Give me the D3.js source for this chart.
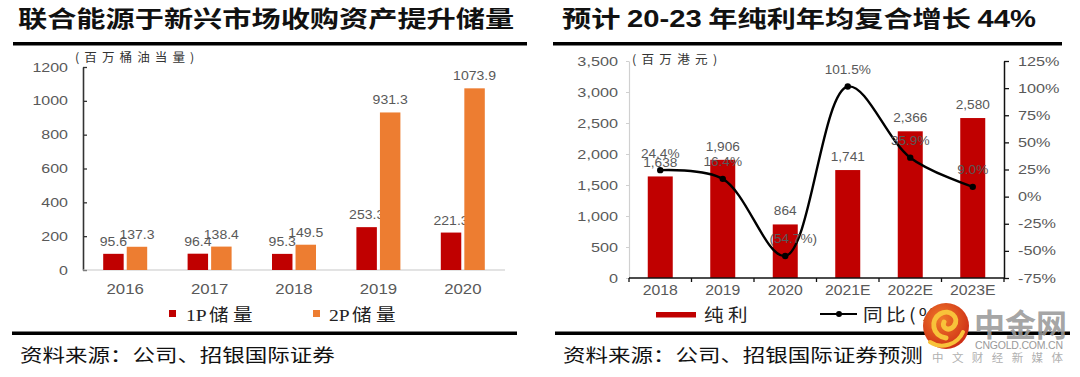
<!DOCTYPE html>
<html>
<head>
<meta charset="utf-8">
<script src="https://cdn.jsdelivr.net/npm/d3@7"></script>
<style>
body { margin: 0; background: #fff; }
</style>
</head>
<body>
<script>
// ---- data ----
var reserveYears = ["2016", "2017", "2018", "2019", "2020"];
var reserve1P = [95.6, 96.4, 95.3, 253.3, 221.3];
var reserve2P = [137.3, 138.4, 149.5, 931.3, 1073.9];
var reserveTicks = [0, 200, 400, 600, 800, 1000, 1200];

var profitYears = ["2018", "2019", "2020", "2021E", "2022E", "2023E"];
var netProfit = [1638, 1906, 864, 1741, 2366, 2580];
var growth = [24.4, 16.4, -54.7, 101.5, 35.9, 9.0];
var profitTicks = [0, 500, 1000, 1500, 2000, 2500, 3000, 3500];
var growthTicks = [-75, -50, -25, 0, 25, 50, 75, 100, 125];

var red = "#c00000", orange = "#ed7d31", grey = "#595959";
var sans = "'Liberation Sans', Arial, sans-serif";
var cjk = "'Noto Sans CJK SC', sans-serif";
var serif = "'Liberation Serif', 'Noto Sans CJK SC', serif";

var svg = d3.select("body").append("svg")
    .attr("width", 1080)
    .attr("height", 377);

// the original picture is a bit stretched sideways, so text gets a scaleX
function txt(g, x, y, s, sx) {
    return g.append("text")
        .attr("transform", "translate(" + x + "," + y + ") scale(" + (sx || 1) + ",1)")
        .text(s);
}

// legend text: latin part tight, chinese part spaced out
function legendText(g, x, y, latin, chinese) {
    var t = g.append("text")
        .attr("transform", "translate(" + x + "," + y + ") scale(1.12,1)")
        .style("font-size", "17.5px").attr("fill", "#222");
    if (latin) t.append("tspan").style("font-family", serif).text(latin);
    t.append("tspan").style("font-family", cjk).style("letter-spacing", "4px")
        .attr("dx", latin ? 2 : 0).text(chinese);
    return t;
}

// ================= left panel =================
var left = svg.append("g");

txt(left, 18, 26.5, "联合能源于新兴市场收购资产提升储量", 1.27)
    .style("font-family", cjk).style("font-weight", 700)
    .style("font-size", "23px").attr("fill", "#111");

left.append("rect").attr("x", 13).attr("y", 42).attr("width", 514).attr("height", 3.5).attr("fill", "#000");

//scales
var xL = d3.scaleBand().domain(reserveYears).range([83, 505]);
var yL = d3.scaleLinear().domain([0, 1200]).range([270, 67]);
var xSub = d3.scaleBand().domain(["1P", "2P"]).range([-22, 22]).paddingInner(0.13);

//unit label
txt(left, 75, 62, "(百万桶油当量)", 1.05)
    .style("font-family", cjk).style("font-size", "12px")
    .style("letter-spacing", "4.8px").attr("fill", "#333");

//y axis
var axL = left.append("g")
    .attr("transform", "translate(83,0)")
    .call(d3.axisLeft(yL).tickValues(reserveTicks).tickFormat(d3.format("d")).tickSizeInner(-4).tickSizeOuter(0));
axL.select(".domain").attr("stroke", "#333").attr("stroke-width", 1.6);
axL.selectAll(".tick line").attr("stroke", "#333").attr("stroke-width", 1.3);
axL.selectAll(".tick text")
    .attr("x", -15 / 1.28).attr("transform", "scale(1.28,1)")
    .style("font-family", sans).style("font-size", "12.5px").attr("fill", grey);

//x baseline
left.append("line")
    .attr("x1", xL.range()[0]).attr("x2", xL.range()[1])
    .attr("y1", yL(0)).attr("y2", yL(0))
    .attr("stroke", "#c8c8c8").attr("stroke-width", 1.2);

//bars for each series
var series = [
    { key: "1P", values: reserve1P, color: red },
    { key: "2P", values: reserve2P, color: orange }
];
series.forEach(function(s) {
    left.selectAll(".bar" + s.key)
        .data(s.values)
        .enter()
        .append("rect")
        .attr("x", function(d, i) { return xL(reserveYears[i]) + xL.bandwidth() / 2 + xSub(s.key); })
        .attr("y", function(d) { return yL(d); })
        .attr("width", xSub.bandwidth())
        .attr("height", function(d) { return yL(0) - yL(d); })
        .attr("fill", s.color);

    s.values.forEach(function(d, i) {
        var cx = xL(reserveYears[i]) + xL.bandwidth() / 2 + xSub(s.key) + xSub.bandwidth() / 2;
        txt(left, cx, yL(d) - 8, d.toFixed(1), 1.08)
            .attr("text-anchor", "middle")
            .style("font-family", sans).style("font-size", "13px").attr("fill", grey);
    });
});

//year labels
reserveYears.forEach(function(y) {
    txt(left, xL(y) + xL.bandwidth() / 2, 293.5, y, 1.2)
        .attr("text-anchor", "middle")
        .style("font-family", sans).style("font-size", "14px").attr("fill", grey);
});

//legend
left.append("rect").attr("x", 169).attr("y", 310).attr("width", 7).attr("height", 7).attr("fill", red);
legendText(left, 186, 320.5, "1P", "储量");
left.append("rect").attr("x", 313).attr("y", 310).attr("width", 7).attr("height", 7).attr("fill", orange);
legendText(left, 329, 320.5, "2P", "储量");

left.append("rect").attr("x", 12).attr("y", 331.5).attr("width", 505).attr("height", 3.5).attr("fill", "#000");
txt(left, 20, 362, "资料来源：公司、招银国际证券", 1.25)
    .style("font-family", cjk).style("font-size", "18px").attr("fill", "#111");

// ================= right panel =================
var right = svg.append("g");

var title = right.append("text")
    .attr("transform", "translate(562,26.5) scale(1.27,1)")
    .style("font-weight", 700).style("font-size", "23px").attr("fill", "#111");
[["预计 ", cjk], ["20-23", sans], [" 年纯利年均复合增长 ", cjk], ["44%", sans]].forEach(function(p) {
    title.append("tspan").style("font-family", p[1]).text(p[0]);
});

right.append("rect").attr("x", 553).attr("y", 42).attr("width", 509).attr("height", 3.5).attr("fill", "#000");

var xR = d3.scaleBand().domain(profitYears).range([629, 1004]).paddingInner(0.6).paddingOuter(0.3);
var yR = d3.scaleLinear().domain([0, 3500]).range([278, 61]);
var yP = d3.scaleLinear().domain([-75, 125]).range([278, 61]);

txt(right, 632, 64, "(百万港元)", 1.05)
    .style("font-family", cjk).style("font-size", "12px")
    .style("letter-spacing", "5px").attr("fill", "#333");

//left axis (net profit)
var axR1 = right.append("g")
    .attr("transform", "translate(629,0)")
    .call(d3.axisLeft(yR).tickValues(profitTicks).tickFormat(d3.format(",")).tickSizeInner(3).tickSizeOuter(0));
axR1.select(".domain").attr("stroke", "#d0d0d0").attr("stroke-width", 1.2);
axR1.selectAll(".tick line").attr("stroke", "#d0d0d0");
axR1.selectAll(".tick text")
    .attr("x", -11 / 1.3).attr("transform", "scale(1.3,1)")
    .style("font-family", sans).style("font-size", "12.5px").attr("fill", grey);

//bars
right.selectAll(".profit")
    .data(netProfit)
    .enter()
    .append("rect")
    .attr("x", function(d, i) { return xR(profitYears[i]); })
    .attr("y", function(d) { return yR(d); })
    .attr("width", xR.bandwidth())
    .attr("height", function(d) { return yR(0) - yR(d); })
    .attr("fill", red);

//x axis with ticks between categories
var step = xR.step();
right.append("line")
    .attr("x1", xR.range()[0]).attr("x2", xR.range()[1])
    .attr("y1", yR(0)).attr("y2", yR(0))
    .attr("stroke", "#111").attr("stroke-width", 1.5);
d3.range(profitYears.length + 1).forEach(function(k) {
    var bx = xR.range()[0] + k * step;
    right.append("line")
        .attr("x1", bx).attr("x2", bx)
        .attr("y1", yR(0)).attr("y2", yR(0) + 4)
        .attr("stroke", "#111").attr("stroke-width", 1.3);
});
profitYears.forEach(function(y) {
    txt(right, xR(y) + xR.bandwidth() / 2, 295, y, 1.13)
        .attr("text-anchor", "middle")
        .style("font-family", sans).style("font-size", "14px").attr("fill", grey);
});

//right axis (growth)
var axR2 = right.append("g")
    .attr("transform", "translate(1004,0)")
    .call(d3.axisRight(yP).tickValues(growthTicks).tickFormat(function(d) { return d + "%"; }).tickSizeInner(5).tickSizeOuter(0));
axR2.select(".domain").attr("stroke", "#111").attr("stroke-width", 1.5);
axR2.selectAll(".tick line").attr("stroke", "#111").attr("stroke-width", 1.3);
axR2.selectAll(".tick text")
    .attr("x", 14 / 1.3).attr("transform", "scale(1.3,1)")
    .style("font-family", sans).style("font-size", "12.5px").attr("fill", grey);

//growth line
var cxR = function(i) { return xR(profitYears[i]) + xR.bandwidth() / 2; };
var line = d3.line()
    .x(function(d, i) { return cxR(i); })
    .y(function(d) { return yP(d); })
    .curve(d3.curveCatmullRom.alpha(0.5));
right.append("path")
    .datum(growth)
    .attr("d", line)
    .attr("fill", "none")
    .attr("stroke", "#000")
    .attr("stroke-width", 2.4);

//bar value labels
netProfit.forEach(function(d, i) {
    txt(right, cxR(i), yR(d) - 9, d3.format(",")(d), 1.05)
        .attr("text-anchor", "middle")
        .style("font-family", sans).style("font-size", "13px").attr("fill", grey);
});

right.selectAll(".dot")
    .data(growth)
    .enter()
    .append("circle")
    .attr("cx", function(d, i) { return cxR(i); })
    .attr("cy", function(d) { return yP(d); })
    .attr("r", 3.2)
    .attr("fill", "#000");

//growth labels, negative in brackets
growth.forEach(function(d, i) {
    var s = d < 0 ? "(" + Math.abs(d).toFixed(1) + "%)" : d.toFixed(1) + "%";
    txt(right, cxR(i) + (d < 0 ? 8 : 0), yP(d) - 12.5, s, 1.05)
        .attr("text-anchor", "middle")
        .style("font-family", sans).style("font-size", "13px").attr("fill", grey);
});

//legend
right.append("rect").attr("x", 656).attr("y", 312).attr("width", 40).attr("height", 5.5).attr("fill", red);
legendText(right, 704, 321, "", "纯利");
right.append("line").attr("x1", 820).attr("x2", 857).attr("y1", 314).attr("y2", 314)
    .attr("stroke", "#000").attr("stroke-width", 2);
right.append("circle").attr("cx", 839).attr("cy", 314).attr("r", 3).attr("fill", "#000");
txt(right, 863, 321, "同比(%)", 1.12)
    .style("font-family", cjk).style("font-size", "17.5px")
    .style("letter-spacing", "3px").attr("fill", "#222");

right.append("rect").attr("x", 555).attr("y", 331.5).attr("width", 515).attr("height", 3.5).attr("fill", "#000");
txt(right, 563, 362, "资料来源：公司、招银国际证券预测", 1.25)
    .style("font-family", cjk).style("font-size", "18px").attr("fill", "#111");

// ================= watermark =================
var wm = svg.append("g");
var grad = svg.append("defs").append("radialGradient").attr("id", "wmg")
    .attr("cx", "40%").attr("cy", "35%").attr("r", "70%");
grad.append("stop").attr("offset", "0%").attr("stop-color", "#f07a2a");
grad.append("stop").attr("offset", "100%").attr("stop-color", "#cc2a14");
wm.append("circle").attr("cx", 946).attr("cy", 326).attr("r", 23).attr("fill", "url(#wmg)");
wm.append("path")
    .attr("d", "M946,338 C932,336 930,320 940,314 C950,308 960,318 954,326 C949,332 941,328 944,322")
    .attr("fill", "none").attr("stroke", "#f8c23a").attr("stroke-width", 5).attr("stroke-linecap", "round");
wm.append("path")
    .attr("d", "M930,342 C942,350 958,344 963,332")
    .attr("fill", "none").attr("stroke", "#f8c23a").attr("stroke-width", 4).attr("stroke-linecap", "round");
wm.append("text").attr("x", 974).attr("y", 336)
    .style("font-family", cjk).style("font-weight", 700).style("font-size", "31px")
    .attr("fill", "#9a9a9a").attr("fill-opacity", 0.9).text("中金网");
wm.append("text").attr("x", 975).attr("y", 349)
    .attr("textLength", 88).attr("lengthAdjust", "spacing")
    .style("font-family", sans).style("font-size", "10.5px")
    .attr("fill", "#9a9a9a").text("CNGOLD.COM.CN");
wm.append("text").attr("x", 932).attr("y", 362)
    .attr("textLength", 131).attr("lengthAdjust", "spacing")
    .style("font-family", cjk).style("font-size", "11.5px")
    .attr("fill", "#b0b0b0").text("中文财经新媒体");
</script>
</body>
</html>
